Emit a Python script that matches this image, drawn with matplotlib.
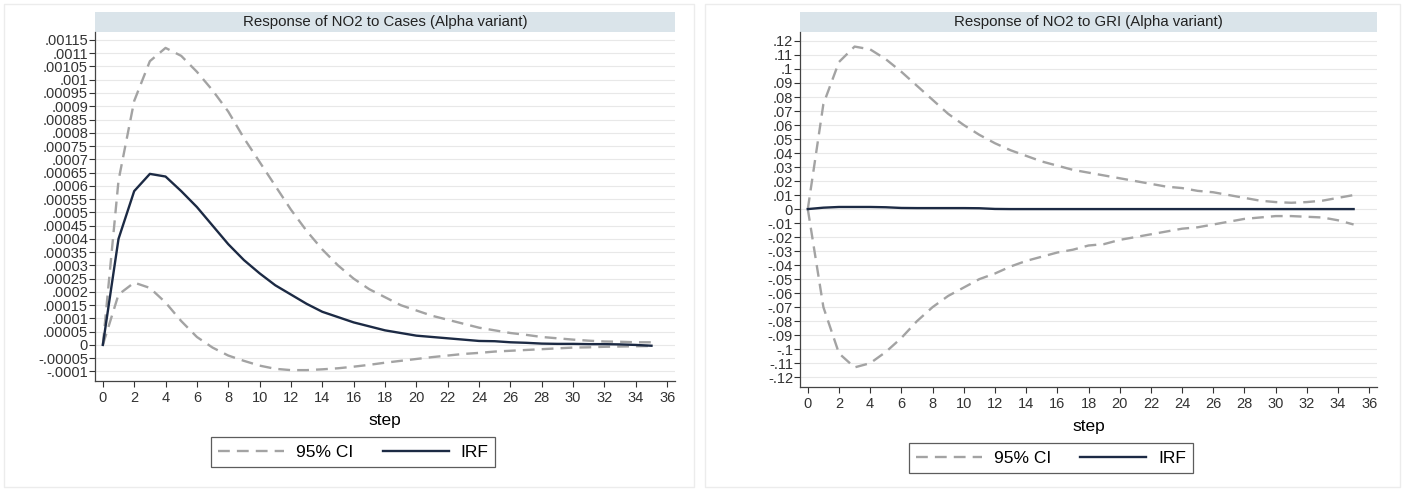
import matplotlib.pyplot as plt
from matplotlib.patches import Rectangle
from matplotlib.ticker import FuncFormatter

plt.rcParams['font.family'] = ['Liberation Sans', 'DejaVu Sans']

steps = list(range(36))

# Response of NO2 to Cases
cases_irf = [0, 0.0004, 0.00058, 0.000645, 0.000635, 0.00058, 0.00052, 0.00045,
             0.00038, 0.00032, 0.00027, 0.000225, 0.00019, 0.000155, 0.000125,
             0.000105, 0.000085, 0.00007, 0.000055, 0.000045, 0.000035, 0.00003,
             0.000025, 0.00002, 0.000015, 0.000014, 0.00001, 0.000008, 0.000005,
             0.000004, 0.000004, 0.000003, 0.000003, 0.000002, 0.0, -0.000003]
cases_upper = [0, 0.00062, 0.00092, 0.00107, 0.00112, 0.00109, 0.00103, 0.00096,
               0.00088, 0.00078, 0.00069, 0.0006, 0.00051, 0.00043, 0.00036,
               0.0003, 0.00025, 0.00021, 0.00018, 0.00015, 0.00013, 0.00011,
               0.000095, 0.00008, 0.000065, 0.000055, 0.000045, 0.000038, 0.00003,
               0.000025, 0.00002, 0.000016, 0.000013, 0.000012, 0.00001, 0.00001]
cases_lower = [0, 0.00019, 0.000235, 0.000215, 0.00016, 0.00009, 0.00003, -0.00001,
               -0.00004, -0.00006, -0.000078, -0.00009, -0.000095, -0.000095,
               -0.000092, -0.000088, -0.000082, -0.000075, -0.000067, -0.00006,
               -0.000053, -0.000046, -0.00004, -0.000034, -0.00003, -0.000025,
               -0.000022, -0.000019, -0.000016, -0.000013, -0.00001, -0.000009,
               -0.000007, -0.000006, -0.000005, -0.000004]

# Response of NO2 to GRI
gri_irf = [0, 0.001, 0.0015, 0.0015, 0.0015, 0.0013, 0.0008, 0.0007, 0.0007,
           0.0007, 0.0007, 0.0006, 0.0001, 0, 0, 0, 0, 0, 0, 0, 0, 0, 0, 0, 0, 0,
           0, 0, 0, 0, 0, 0, 0, 0, 0, 0]
gri_upper = [0, 0.075, 0.105, 0.116, 0.114, 0.107, 0.098, 0.088, 0.078, 0.068,
             0.06, 0.053, 0.047, 0.042, 0.038, 0.034, 0.031, 0.028, 0.026, 0.024,
             0.022, 0.02, 0.018, 0.016, 0.015, 0.013, 0.012, 0.01, 0.008, 0.006,
             0.005, 0.0045, 0.005, 0.006, 0.008, 0.01]
gri_lower = [0, -0.07, -0.103, -0.113, -0.11, -0.102, -0.092, -0.08, -0.07,
             -0.062, -0.056, -0.05, -0.046, -0.041, -0.037, -0.034, -0.031,
             -0.029, -0.026, -0.025, -0.022, -0.02, -0.018, -0.016, -0.014,
             -0.013, -0.011, -0.009, -0.007, -0.006, -0.005, -0.005, -0.0055,
             -0.006, -0.008, -0.011]

cases_yticks = [i * 0.00005 for i in range(-2, 24)]
gri_yticks = [i * 0.01 for i in range(-12, 13)]
xticks = list(range(0, 37, 2))

IRF_COLOR = '#1c2a44'
CI_COLOR = '#a3a3a3'
BAND_COLOR = '#dae4ea'


def stata_fmt(v, pos=None):
    if abs(v) < 1e-12:
        return "0"
    s = f"{v:.5f}".rstrip('0').rstrip('.')
    return s.replace("0.", ".", 1)


fig = plt.figure(figsize=(14.04, 4.91), dpi=100)

# faint panel borders
fig.patches.append(Rectangle((4 / 1404, 4 / 491), 690 / 1404, 483 / 491,
                             transform=fig.transFigure, fill=False,
                             edgecolor='#ececec', linewidth=1))
fig.patches.append(Rectangle((705 / 1404, 4 / 491), 695 / 1404, 483 / 491,
                             transform=fig.transFigure, fill=False,
                             edgecolor='#ececec', linewidth=1))


def panel(rect, title, irf, upper, lower, yticks, ylim, legend_x):
    ax = fig.add_axes(rect)
    h_px = rect[3] * 491
    ax.plot(steps, upper, color=CI_COLOR, linestyle=(0, (5, 3)), linewidth=1.7,
            label='95% CI')
    ax.plot(steps, lower, color=CI_COLOR, linestyle=(0, (5, 3)), linewidth=1.7)
    ax.plot(steps, irf, color=IRF_COLOR, linewidth=1.7, label='IRF')

    ax.set_xlim(-0.5, 36.5)
    ax.set_ylim(*ylim)
    ax.set_xticks(xticks)
    ax.set_yticks(yticks)
    ax.yaxis.set_major_formatter(FuncFormatter(stata_fmt))
    ax.tick_params(axis='both', direction='out', length=4, width=0.8,
                   colors='#333333', labelsize=10.5, pad=3)
    ax.tick_params(axis='y', pad=1)
    ax.grid(axis='y', color='#e8e8e8', linewidth=0.8)
    ax.set_axisbelow(True)
    for side in ['top', 'right']:
        ax.spines[side].set_visible(False)
    for side in ['left', 'bottom']:
        ax.spines[side].set_color('#444444')
        ax.spines[side].set_linewidth(0.9)

    ax.set_xlabel('step', fontsize=12.5, labelpad=6)

    # title band above the plot
    band = Rectangle((0, 1), 1, 20 / h_px, transform=ax.transAxes,
                     facecolor=BAND_COLOR, edgecolor='none', clip_on=False)
    ax.add_patch(band)
    ax.text(0.5, 1 + 10 / h_px, title, transform=ax.transAxes,
            ha='center', va='center', fontsize=10.8, color='#222222')

    leg = ax.legend(loc='center', bbox_to_anchor=(legend_x, -71 / h_px), ncol=2,
                    frameon=True, fancybox=False, fontsize=12.5,
                    handlelength=3.8, columnspacing=1.7, handletextpad=0.7,
                    borderpad=0.4)
    leg.get_frame().set_edgecolor('#333333')
    leg.get_frame().set_linewidth(0.9)
    return ax


panel([95 / 1404, 1 - 381 / 491, 580 / 1404, 349 / 491],
      'Response of NO2 to Cases (Alpha variant)',
      cases_irf, cases_upper, cases_lower, cases_yticks,
      (-0.000136, 0.00118), 0.445)

panel([800 / 1404, 1 - 387 / 491, 577 / 1404, 355 / 491],
      'Response of NO2 to GRI (Alpha variant)',
      gri_irf, gri_upper, gri_lower, gri_yticks,
      (-0.127, 0.1264), 0.435)

fig.savefig('out.png', dpi=100, facecolor='white')
